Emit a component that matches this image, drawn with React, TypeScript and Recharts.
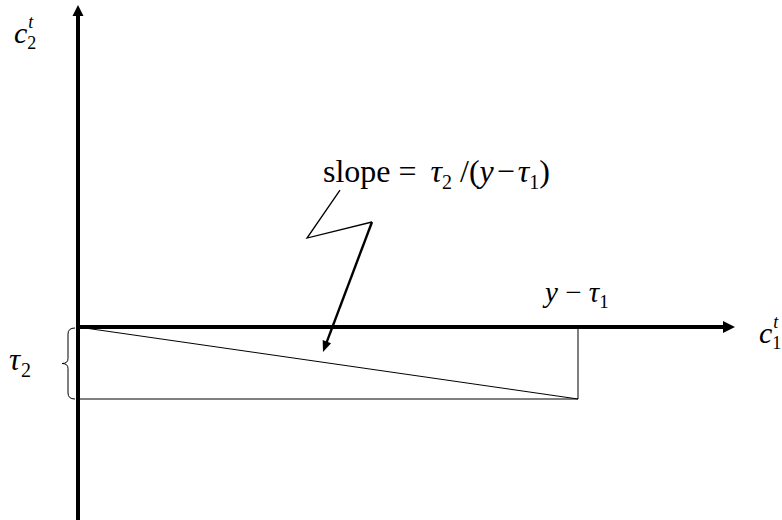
import React from 'react'
import {
  ComposedChart,
  Line,
  XAxis,
  YAxis,
  ReferenceLine,
  ReferenceDot,
} from 'recharts'

// diagram values (x: first-period consumption, y: second-period consumption)
const yMinusTau1 = 10
const tau2 = 1.5

const budgetLine = [
  { x: 0, y: 0 },
  { x: yMinusTau1, y: -tau2 },
]
const boxEdges = [
  { x: 0, y: -tau2 },
  { x: yMinusTau1, y: -tau2 },
  { x: yMinusTau1, y: 0 },
]
const zigzag = [
  { x: 5.24, y: 2.854 },
  { x: 4.58, y: 1.854 },
  { x: 5.88, y: 2.1875 },
]
const zigzagTip = { x: 4.9, y: -0.52 }

const xDomain = [-1.56, 14.08]
const yDomain = [-4.0208, 6.8125]
const xAxisEnd = 13.14
const yAxisTop = 6.71

const serif = '"Liberation Serif", "Times New Roman", serif'

function Arrow(props: any) {
  const { x1, y1, x2, y2, strokeWidth = 4, head = 12, headW = 11 } = props
  const dx = x2 - x1
  const dy = y2 - y1
  const len = Math.sqrt(dx * dx + dy * dy) || 1
  const ux = dx / len
  const uy = dy / len
  const bx = x2 - ux * head
  const by = y2 - uy * head
  const px = -uy * (headW / 2)
  const py = ux * (headW / 2)
  return (
    <g>
      <line x1={x1} y1={y1} x2={bx + ux * 1} y2={by + uy * 1} stroke="#000" strokeWidth={strokeWidth} />
      <polygon points={`${x2},${y2} ${bx + px},${by + py} ${bx - px},${by - py}`} fill="#000" />
    </g>
  )
}

function Brace(props: any) {
  const { x1, y1, y2 } = props
  const top = Math.min(y1, y2) + 1
  const bot = Math.max(y1, y2)
  const mid = (top + bot) / 2
  const r = x1 - 3
  const m = x1 - 10
  const l = x1 - 16
  const d = `M ${r} ${top} Q ${m} ${top} ${m} ${top + 6} L ${m} ${mid - 5} Q ${m} ${mid} ${l} ${mid} Q ${m} ${mid} ${m} ${mid + 5} L ${m} ${bot - 6} Q ${m} ${bot} ${r} ${bot}`
  return <path d={d} fill="none" stroke="#000" strokeWidth={1} />
}

function textShape(content: React.ReactNode) {
  return (p: any) => (
    <text x={p.cx} y={p.cy} fontFamily={serif} fill="#000">
      {content}
    </text>
  )
}

const c2Label = (
  <>
    <tspan fontSize={30} fontStyle="italic">c</tspan>
    <tspan fontSize={18} fontStyle="italic" dx={1} dy={-15}>t</tspan>
    <tspan fontSize={18} dx={-6} dy={21}>2</tspan>
  </>
)
const c1Label = (
  <>
    <tspan fontSize={30} fontStyle="italic">c</tspan>
    <tspan fontSize={18} fontStyle="italic" dx={1} dy={-15}>t</tspan>
    <tspan fontSize={18} dx={-6} dy={21}>1</tspan>
  </>
)
const slopeLabel = (
  <>
    <tspan fontSize={32}>slope =</tspan>
    <tspan fontSize={32} fontStyle="italic" dx={14}>τ</tspan>
    <tspan fontSize={20} dy={7}>2</tspan>
    <tspan fontSize={32} dy={-7}> /(</tspan>
    <tspan fontSize={32} fontStyle="italic">y</tspan>
    <tspan fontSize={32} dx={3}>−</tspan>
    <tspan fontSize={32} fontStyle="italic" dx={3}>τ</tspan>
    <tspan fontSize={20} dy={7}>1</tspan>
    <tspan fontSize={32} dy={-7}>)</tspan>
  </>
)
const yMinusLabel = (
  <>
    <tspan fontSize={29} fontStyle="italic">y</tspan>
    <tspan fontSize={29}> − </tspan>
    <tspan fontSize={29} fontStyle="italic">τ</tspan>
    <tspan fontSize={19} dy={6}>1</tspan>
  </>
)
const tau2Label = (
  <>
    <tspan fontSize={31} fontStyle="italic">τ</tspan>
    <tspan fontSize={20} dx={1} dy={7}>2</tspan>
  </>
)

export default function App() {
  return (
    <div style={{ position: 'fixed', left: 0, top: 0, width: 782, height: 520, background: '#fff' }}>
      <ComposedChart width={782} height={520} margin={{ top: 0, right: 0, bottom: 0, left: 0 }}>
        <XAxis type="number" dataKey="x" domain={xDomain} hide allowDataOverflow />
        <YAxis type="number" dataKey="y" domain={yDomain} hide allowDataOverflow />

        <Line data={boxEdges} dataKey="y" type="linear" stroke="#000" strokeWidth={1} dot={false} activeDot={false} legendType="none" isAnimationActive={false} />
        <Line data={budgetLine} dataKey="y" type="linear" stroke="#000" strokeWidth={1} dot={false} activeDot={false} legendType="none" isAnimationActive={false} />
        <Line data={zigzag} dataKey="y" type="linear" stroke="#000" strokeWidth={1.3} dot={false} activeDot={false} legendType="none" isAnimationActive={false} />

        {/* axes with arrow heads */}
        <ReferenceLine
          segment={[{ x: 0, y: yDomain[0] }, { x: 0, y: yAxisTop }]}
          shape={(p: any) => <Arrow {...p} strokeWidth={4} head={11} headW={11} />}
        />
        <ReferenceLine
          segment={[{ x: 0, y: 0 }, { x: xAxisEnd, y: 0 }]}
          shape={(p: any) => <Arrow {...p} strokeWidth={4} head={12} headW={12} />}
        />
        <ReferenceLine
          segment={[zigzag[2], zigzagTip]}
          shape={(p: any) => <Arrow {...p} strokeWidth={2.4} head={11} headW={9} />}
        />
        <ReferenceLine segment={[{ x: 0, y: 0 }, { x: 0, y: -tau2 }]} shape={(p: any) => <Brace {...p} />} />

        <ReferenceDot x={-1.28} y={5.917} r={0} shape={textShape(c2Label)} />
        <ReferenceDot x={13.62} y={-0.333} r={0} shape={textShape(c1Label)} />
        <ReferenceDot x={4.9} y={3.02} r={0} shape={textShape(slopeLabel)} />
        <ReferenceDot x={9.34} y={0.52} r={0} shape={textShape(yMinusLabel)} />
        <ReferenceDot x={-1.38} y={-0.896} r={0} shape={textShape(tau2Label)} />
      </ComposedChart>
    </div>
  )
}
